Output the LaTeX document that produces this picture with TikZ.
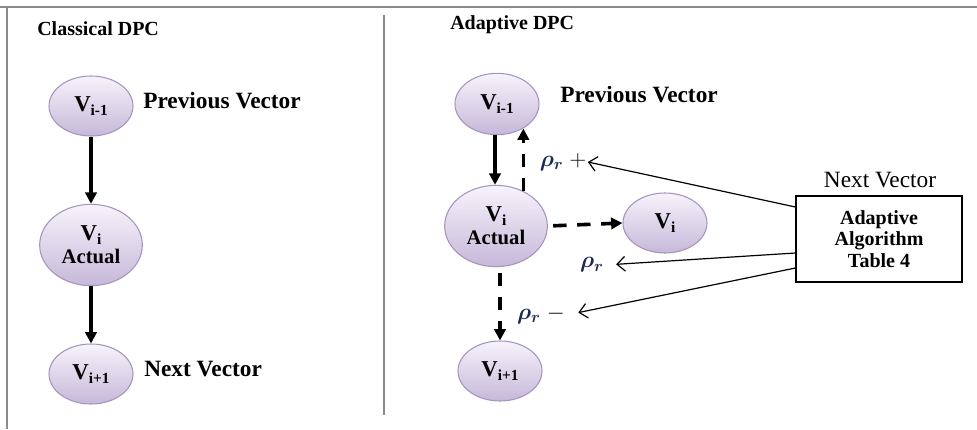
\documentclass[tikz,border=0pt]{standalone}
\usepackage{fontspec}
\setmainfont{Liberation Serif}
\usetikzlibrary{arrows.meta,shapes.geometric,calc}
\definecolor{framecol}{HTML}{8A8A8A}
\definecolor{ellborder}{HTML}{A594BE}
\definecolor{elltop}{HTML}{F7F3FB}
\definecolor{ellbot}{HTML}{C6B8D9}
\definecolor{rhocol}{HTML}{1B2A52}
\newcommand\vsub[1]{\raisebox{-0.35ex}{\fontsize{11.5}{12}\selectfont #1}}
\begin{document}
\begin{tikzpicture}[x=0.75pt,y=-0.75pt,
  vec/.style={ellipse, draw=ellborder, line width=0.8pt, top color=elltop, bottom color=ellbot,
    font=\fontsize{15.5}{17}\selectfont\bfseries, inner sep=0pt, align=center},
  smallvec/.style={vec, minimum width=63pt, minimum height=45pt},
  bigvec/.style={vec, minimum width=77pt, minimum height=61pt},
  lbl/.style={font=\fontsize{17.5}{20}\selectfont\bfseries, anchor=west, inner sep=0pt},
  ttl/.style={font=\fontsize{15}{18}\selectfont\bfseries, anchor=west, inner sep=0pt},
  heavyarrow/.style={line width=2.7pt, -{Triangle[length=8.5pt,width=8.5pt]}},
  dasharrow/.style={heavyarrow, dash pattern=on 10pt off 8pt},
  thinarrow/.style={line width=0.9pt, -{Straight Barb[length=6pt,width=11pt]}},
  rho/.style={font=\fontsize{18.5}{20}\selectfont, text=black, inner sep=1pt}
]
\useasboundingbox (0,0) rectangle (977,429);
% frame
\draw[framecol, line width=1.4pt] (0,7) -- (977,7);
\draw[framecol, line width=1.2pt] (7,7) -- (7,429);
\draw[framecol, line width=1pt] (384,15) -- (384,415);

% titles
\node[ttl] (t1) at (37,29) {Classical DPC};
\node[ttl] (t2) at (450,25) {Adaptive DPC};

% classical
\node[smallvec] (a1) at (91,106) {\fontsize{17}{17}\selectfont V\vsub{i-1}};
\node[bigvec] (a2) at (91,245) {{\fontsize{17}{17}\selectfont V\vsub{i}}\\Actual};
\node[smallvec] (a3) at (91,374) {\fontsize{17}{17}\selectfont V\vsub{i+1}};
\node[lbl] (p1) at (143,101) {Previous Vector};
\node[lbl] (n1) at (144,369) {Next Vector};
\draw[heavyarrow] (a1.south) -- (a2.north);
\draw[heavyarrow] (a2.south) -- (a3.north);

% adaptive
\node[smallvec, minimum height=46pt] (b1) at (497,104) {\fontsize{17}{17}\selectfont V\vsub{i-1}};
\node[bigvec] (b2) at (496,226) {{\fontsize{17}{17}\selectfont V\vsub{i}}\\Actual};
\node[smallvec] (b3) at (665,223) {\fontsize{17}{17}\selectfont V\vsub{i}};
\node[smallvec] (b4) at (500,371) {\fontsize{17}{17}\selectfont V\vsub{i+1}};
\node[lbl] (p2) at (560,95) {Previous Vector};

\draw[heavyarrow] ([xshift=-1.5pt]b1.south) -- ([xshift=-1.5pt]b1.south |- b2.north);
\draw[dasharrow] (b2.52) -- (b2.52 |- b1.-43);
\draw[dasharrow, shorten <=4pt] (b2.east) -- (b3.west);
\draw[dasharrow, shorten <=4pt] (b4.north |- b2.south) -- (b4.north);

% algorithm box
\node[draw, line width=0.9pt, minimum width=124.5pt, minimum height=64.5pt, align=center,
  font=\fontsize{15}{16}\selectfont\bfseries] (alg) at (879,239) {Adaptive\\Algorithm\\Table 4};
\node[font=\fontsize{17.5}{20}\selectfont, inner sep=0pt] (nv) at (880,180) {Next Vector};

% rho labels
\node[rho] (r1) at (563,162) {{\boldmath\color{rhocol}$\rho_r$} $+$};
\node[rho] (r2) at (592,265) {{\boldmath\color{rhocol}$\rho_r$}};
\node[rho] (r3) at (541,315) {{\boldmath\color{rhocol}$\rho_r$} $-$};

\draw[thinarrow] ($(alg.west)+(0,-32)$) -- (r1.east);
\draw[thinarrow, shorten >=8pt] ($(alg.west)+(0,14)$) -- (r2.east);
\draw[thinarrow, shorten >=9pt] ($(alg.west)+(0,29)$) -- (r3.east);
\end{tikzpicture}
\end{document}
